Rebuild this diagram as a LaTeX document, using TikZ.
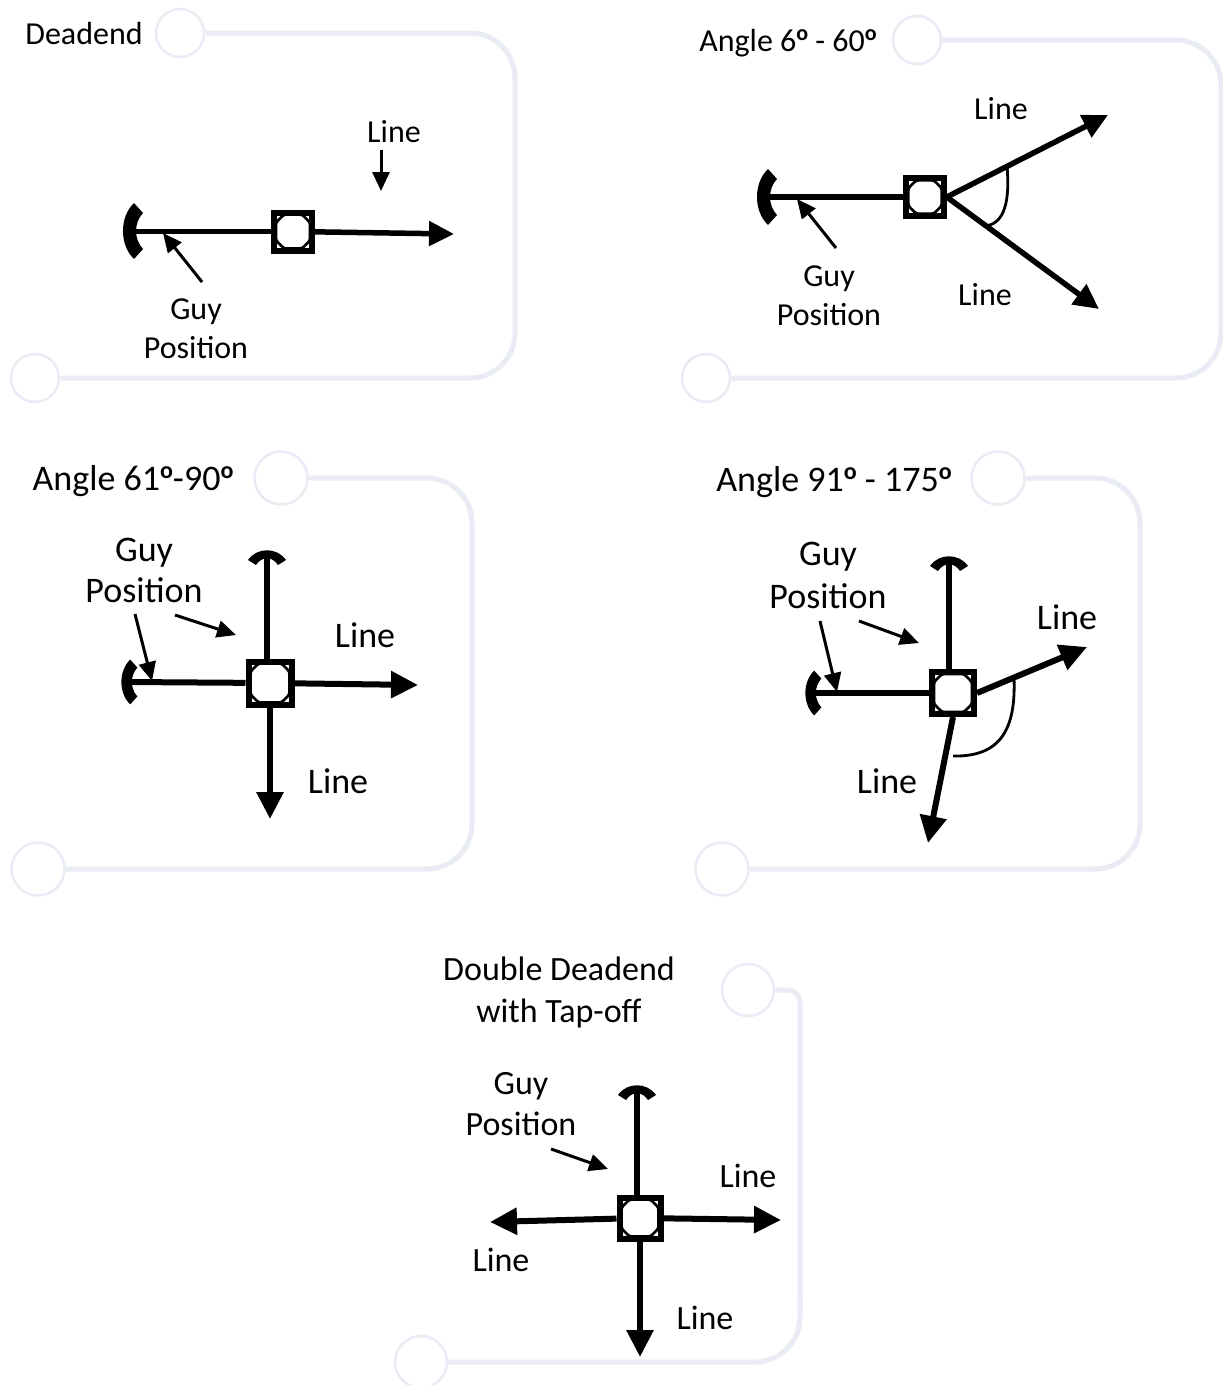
\documentclass[tikz,border=0pt]{standalone}
\usepackage{fontspec}
\setmainfont{Carlito}
\usetikzlibrary{arrows.meta}
\definecolor{framec}{HTML}{E9EBF5}
\newcommand{\degm}[2]{\raisebox{#2pt}{\fontsize{#1}{#1}\selectfont\bfseries o}}
\tikzset{
 x=1pt,y=-1pt,
 frameline/.style={draw=framec,line width=5pt,rounded corners=45pt},
 ring/.style={circle,draw=framec,line width=2.5pt,fill=white,inner sep=0pt},
 lab/.style={font=\fontsize{32}{34}\selectfont,inner sep=0pt,align=center,text=black,yshift=-1pt},
 labm/.style={font=\fontsize{34}{34}\selectfont,inner sep=0pt,align=center,text=black},
 labl/.style={font=\fontsize{36}{34}\selectfont,inner sep=0pt,align=center,text=black},
 wire/.style={line width=5.5pt,draw=black},
 wirearrow/.style={line width=5.5pt,draw=black,-{Triangle[length=25pt,width=24pt]}},
 wirearrowl/.style={line width=6pt,draw=black,-{Triangle[length=27pt,width=26pt]}},
 thinarrow/.style={line width=3pt,draw=black,-{Triangle[length=19pt,width=17pt]}},
 thincurve/.style={line width=2.8pt,draw=black},
 polebox/.style={rectangle,draw=black,fill=white,line width=6pt,inner sep=0pt,
   path picture={
     \draw[black,line width=2.6pt,rounded corners=2.5pt]
       ([xshift=2pt,yshift=10pt]path picture bounding box.south west) --
       ([xshift=10pt,yshift=2pt]path picture bounding box.south west) --
       ([xshift=-10pt,yshift=2pt]path picture bounding box.south east) --
       ([xshift=-2pt,yshift=10pt]path picture bounding box.south east) --
       ([xshift=-2pt,yshift=-10pt]path picture bounding box.north east) --
       ([xshift=-10pt,yshift=-2pt]path picture bounding box.north east) --
       ([xshift=10pt,yshift=-2pt]path picture bounding box.north west) --
       ([xshift=2pt,yshift=-10pt]path picture bounding box.north west) -- cycle;
   }},
}
% #1 x, #2 y, #3 scale of the crescent
\newcommand{\leftguy}[3]{\fill[black,shift={(#1,#2)},scale=#3] (4,-28) -- (13,-18) .. controls (3.7,-8) and (3.7,8) .. (13,18) -- (4,28) .. controls (-10.7,14) and (-10.7,-14) .. (4,-28) -- cycle;}
\newcommand{\topguy}[2]{\fill[black,shift={(#1,#2)}] (-19,4) -- (-11,9) .. controls (-5,0) and (5,0) .. (11,9) -- (19,4) .. controls (10,-9) and (-10,-9) .. (-19,4) -- cycle;}
\begin{document}
\begin{tikzpicture}
\useasboundingbox (0,0) rectangle (1223,1385);
% Panel 1
\node[ring,minimum size=48pt] (r1a) at (180,33) {};
\node[ring,minimum size=48pt] (r1b) at (35,378) {};
\draw[frameline] (r1a) -- (515,33) -- (515,378) -- (r1b);
\node[lab] (t1) at (84,33) {Deadend};
\node[polebox,minimum size=38pt] (p1) at (293,231.5) {};
\coordinate (g1) at (132,231.5);
\coordinate (e1) at (454,234);
\draw[wire] (g1) -- (p1);
\draw[wirearrow] (p1) -- (e1);
\leftguy{130}{231}{1}
\node[lab] (l1) at (394,131) {Line};
\coordinate (l1e) at (381,191);
\draw[thinarrow] (381,150) -- (l1e);
\node[lab] (gp1) at (196,328) {Guy\\[5pt]Position};
\coordinate (ga1s) at (202,282);
\coordinate (ga1e) at (163,233);
\draw[thinarrow] (ga1s) -- (ga1e);
% Panel 2
\node[ring,minimum size=48pt] (r2a) at (917,40) {};
\node[ring,minimum size=48pt] (r2b) at (706,378) {};
\draw[frameline] (r2a) -- (1221,40) -- (1221,378) -- (r2b);
\node[lab] (t2) at (788,42) {Angle 6\degm{22}{11} - 60\degm{22}{11}};
\node[polebox,minimum size=37.5pt] (p2) at (925,197) {};
\coordinate (g2) at (766,197);
\coordinate (e2a) at (1108,115);
\coordinate (e2b) at (1099,309);
\draw[wire] (g2) -- (p2);
\draw[wirearrow] (p2.east) -- (e2a);
\draw[wirearrow] (p2.east) -- (e2b);
\leftguy{764}{197}{1}
\draw[thincurve] (1007,166) .. controls (1010,200) and (1005,224) .. (985,226);
\coordinate (ga2s) at (836,248);
\coordinate (ga2e) at (797,199);
\draw[thinarrow] (ga2s) -- (ga2e);
\node[lab] (l2a) at (1001,108) {Line};
\node[lab] (l2b) at (985,294) {Line};
\node[lab] (gp2) at (829,295) {Guy\\[5pt]Position};
% Panel 3
\node[ring,minimum size=53pt] (r3a) at (281,478) {};
\node[ring,minimum size=53pt] (r3b) at (38,869) {};
\draw[frameline] (r3a) -- (472,478) -- (472,869) -- (r3b);
\node[labl] (t3) at (133,481) {Angle 61\degm{24}{12}-90\degm{24}{12}};
\node[polebox,minimum size=43pt] (p3) at (270,683) {};
\coordinate (g3a) at (267,556);
\coordinate (g3b) at (128,682);
\coordinate (e3a) at (418,685);
\coordinate (e3b) at (270,819);
\draw[wire,line width=6pt] (g3a) -- (g3a|-p3.north);
\draw[wire,line width=6pt] (g3b) -- (p3);
\draw[wirearrowl] (p3) -- (e3a);
\draw[wirearrowl] (p3) -- (e3b);
\topguy{267}{556}
\leftguy{127}{682}{0.8}
\coordinate (ga3s) at (135,614);
\coordinate (ga3e) at (152,681);
\draw[thinarrow] (ga3s) -- (ga3e);
\coordinate (gb3s) at (175,615);
\coordinate (gb3e) at (236,635);
\draw[thinarrow] (gb3s) -- (gb3e);
\node[labl] (gp3) at (144,570) {Guy\\[7pt]Position};
\node[labl] (l3a) at (365,635) {Line};
\node[labl] (l3b) at (338,781) {Line};
% Panel 4
\node[ring,minimum size=53pt] (r4a) at (998,478) {};
\node[ring,minimum size=53pt] (r4b) at (722,869) {};
\draw[frameline] (r4a) -- (1140,478) -- (1140,869) -- (r4b);
\node[labl] (t4) at (834,482) {Angle 91\degm{24}{12} - 175\degm{24}{12}};
\node[polebox,minimum size=42pt] (p4) at (953,693) {};
\coordinate (g4a) at (949,562);
\coordinate (g4b) at (812,693);
\coordinate (e4a) at (1087,647);
\coordinate (e4b) at (928,843);
\draw[wire,line width=6pt] (g4a) -- (g4a|-p4.north);
\draw[wire,line width=6pt] (g4b) -- (p4);
\draw[wirearrowl] (p4.east) -- (e4a);
\draw[wirearrowl] (p4.south) -- (e4b);
\topguy{949}{562}
\leftguy{811}{693}{0.8}
\draw[thincurve] (1014,678) .. controls (1016,730) and (1000,757) .. (953,756);
\coordinate (ga4s) at (820,621);
\coordinate (ga4e) at (837,692);
\draw[thinarrow] (ga4s) -- (ga4e);
\coordinate (gb4s) at (859,621);
\coordinate (gb4e) at (919,643);
\draw[thinarrow] (gb4s) -- (gb4e);
\node[labl] (gp4) at (828,575) {Guy\\[9pt]Position};
\node[labl] (l4a) at (1067,617) {Line};
\node[labl] (l4b) at (887,781) {Line};
% Panel 5
\node[ring,minimum size=52pt] (r5a) at (748,990) {};
\node[ring,minimum size=52pt] (r5b) at (421,1362) {};
\draw[draw=framec,line width=5pt] (r5a) -- (788,990) arc[start angle=90,end angle=0,radius=12pt] -- (800,1310);
\draw[frameline] (800,1300) -- (800,1362) -- (r5b);
\node[labm] (t5) at (559,992) {Double Deadend\\[8pt]with Tap-off};
\node[polebox,minimum size=41pt] (p5) at (640,1218) {};
\coordinate (g5) at (637,1091);
\coordinate (e5a) at (781,1220);
\coordinate (e5b) at (490,1222);
\coordinate (e5c) at (640,1357);
\draw[wire,line width=6pt] (g5) -- (g5|-p5.north);
\draw[wirearrowl] (p5) -- (e5a);
\draw[wirearrowl] (p5) -- (e5b);
\draw[wirearrowl] (p5) -- (e5c);
\topguy{637}{1091}
\coordinate (ga5s) at (551,1149);
\coordinate (ga5e) at (608,1169);
\draw[thinarrow] (ga5s) -- (ga5e);
\node[labm] (gp5) at (521,1104) {Guy\\[7pt]Position};
\node[labm] (l5a) at (748,1176) {Line};
\node[labm] (l5b) at (501,1260) {Line};
\node[labm] (l5c) at (705,1318) {Line};
\end{tikzpicture}
\end{document}
